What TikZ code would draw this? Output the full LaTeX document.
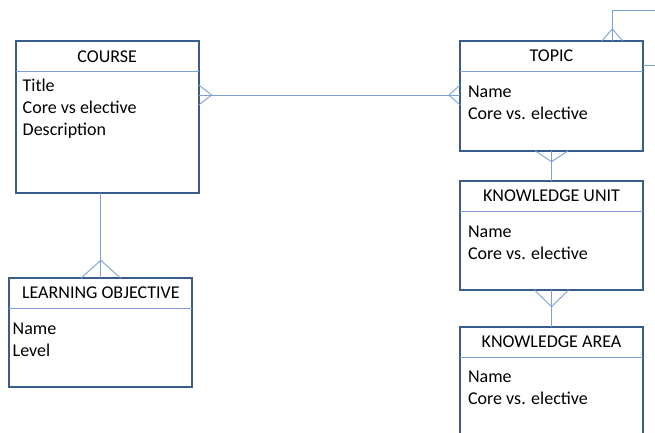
\documentclass[tikz,border=0pt]{standalone}
\usepackage{fontspec}
\setmainfont{Carlito}
\usetikzlibrary{
  shapes.multipart,
  positioning,
  calc
}
\definecolor{boxblue}{RGB}{56,93,138}
\definecolor{relblue}{RGB}{125,160,210}
% head part: height, title
\newcommand{\ehead}[2]{\parbox[c][#1][c]{183pt}{\centering #2}}
% body part: height, left inset, first baseline, lines
\newcommand{\ebody}[4]{\parbox[t][#1][t]{183pt}{\raggedright\leftskip=#2\rule{0pt}{#3}#4}}

\begin{document}
\begin{tikzpicture}[x=1pt,y=-1pt,
  entity/.style={rectangle split, rectangle split parts=2, rectangle split draw splits=false,
    draw=boxblue, line width=2.2pt, inner sep=0pt, outer sep=0pt, anchor=north west,
    font=\fontsize{18}{22}\selectfont},
  split/.style={draw=relblue, line width=0.9pt},
  rel/.style={draw=relblue, line width=0.9pt},
  node distance=30pt]
\useasboundingbox (0,0) rectangle (655,432);
\clip (0,0) rectangle (655,432);

\node[entity] (course) at (15.7,41) {\ehead{28.5pt}{COURSE}\nodepart{two}\ebody{118.8pt}{7pt}{19pt}{Title\\Core vs elective\\Description}};
\node[entity] (topic) at (460,41) {\ehead{27.8pt}{TOPIC}\nodepart{two}\ebody{77.5pt}{8pt}{25pt}{Name\\Core vs. elective}};
\node[entity, anchor=north, below=30.3pt of topic] (ku) {\ehead{27.8pt}{KNOWLEDGE UNIT}\nodepart{two}\ebody{76.8pt}{8pt}{25pt}{Name\\Core vs. elective}};
\node[entity, anchor=north, below=36.7pt of ku] (ka) {\ehead{28.4pt}{KNOWLEDGE AREA}\nodepart{two}\ebody{100pt}{8pt}{24pt}{Name\\Core vs. elective}};
\node[entity] (lo) at (9.3,278.3) {\ehead{27.5pt}{LEARNING OBJECTIVE}\nodepart{two}\ebody{76.5pt}{3.4pt}{25pt}{Name\\Level}};

\foreach \e in {course,topic,ku,ka,lo}
  \draw[split] (\e.text split west) -- (\e.text split east);

% course -- topic
\draw[rel] (course.north east) ++(0,54) coordinate (ct) -- (ct -| topic.west);
\draw[rel] ($(ct)+(0,-10)$) -- ++(13,10) -- ++(-13,10);
\draw[rel] ($(ct -| topic.west)+(0,-10)$) -- ++(-11,10) -- ++(11,10);

% topic -- topic
\coordinate (tl) at ($(topic.north west)+(152.3,0)$);
\draw[rel] (tl) -- ++(0,-30.3) -- ++(60,0);
\draw[rel] ($(tl)+(-10.5,0)$) -- ++(10.5,-12) -- ++(10.5,12);
\draw[rel] (topic.north east) ++(0,24.3) coordinate (tr) -- ++(20,0);

% topic -- knowledge unit
\draw[rel] (topic.south) -- (ku.north);
\draw[rel] ($(topic.south)+(-16.5,0)$) -- ++(16.5,11) -- ++(16.5,-11);

% knowledge unit -- knowledge area
\draw[rel] (ku.south) -- (ka.north);
\draw[rel] ($(ku.south)+(-17,0)$) -- ++(17,16.7) -- ++(17,-16.7);

% course -- learning objective
\draw[rel] (lo.north) -- (lo.north |- course.south);
\draw[rel] ($(lo.north)+(-20,0)$) -- ++(20,-18) -- ++(20,18);
\end{tikzpicture}
\end{document}
